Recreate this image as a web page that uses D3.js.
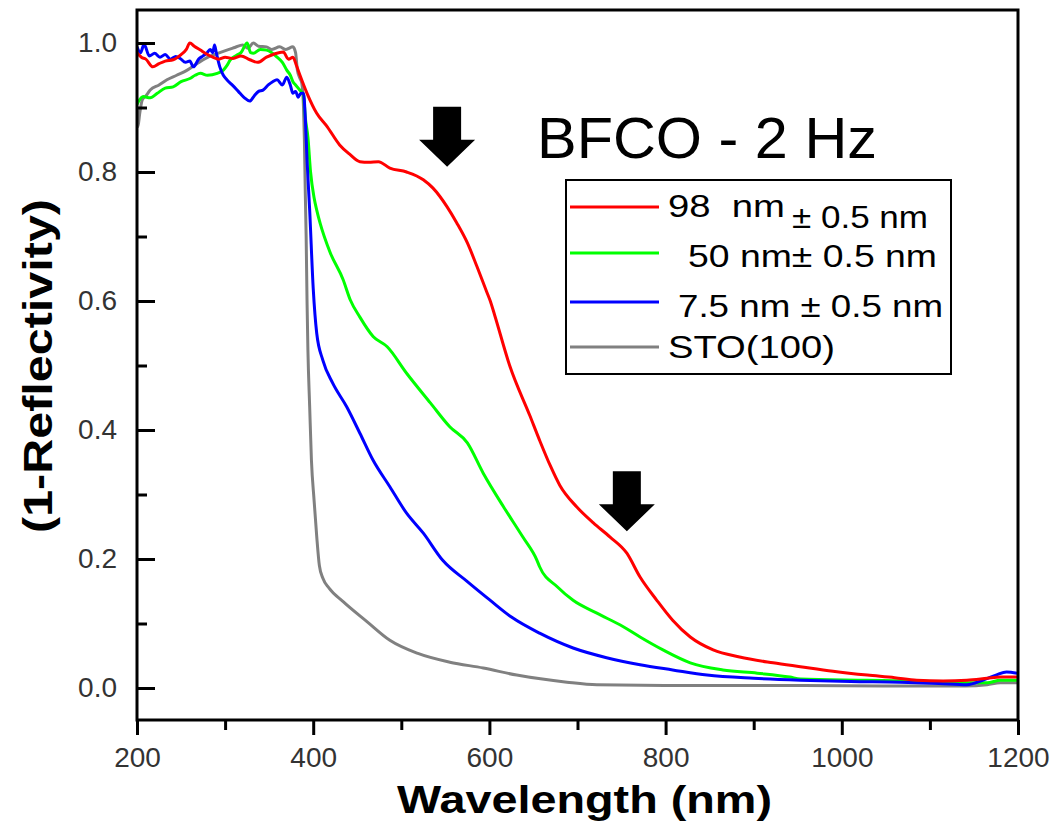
<!DOCTYPE html>
<html><head><meta charset="utf-8">
<script src="https://cdn.jsdelivr.net/npm/d3@7"></script>
<style>body{margin:0;background:#fff}svg{display:block}text{font-family:"Liberation Sans",Arial,sans-serif}</style>
</head><body>
<script>
// ---- data ----
const redWl = [200,205,210,218,225,232,241,250,256,260,265,272,279,286,293,300,309,318,328,337,347,356,366,372,377,381,385,393,404,416,430,441,453,463,474,487,506,525,536,552,563,575,586,597,601,606,623,646,657,669,680,699,718,737,756,771,790,808,828,854,884,922,953,990,1029,1060,1085,1115,1142,1165,1180,1199];
const redV  = [0.985,0.978,0.975,0.963,0.968,0.972,0.974,0.982,0.990,1.000,0.995,0.989,0.983,0.978,0.975,0.978,0.976,0.980,0.974,0.970,0.978,0.983,0.986,0.975,0.978,0.965,0.950,0.922,0.891,0.870,0.842,0.828,0.816,0.815,0.816,0.806,0.800,0.788,0.775,0.746,0.721,0.690,0.653,0.614,0.600,0.578,0.500,0.422,0.384,0.345,0.314,0.281,0.256,0.234,0.209,0.172,0.136,0.105,0.079,0.059,0.048,0.039,0.033,0.026,0.020,0.016,0.012,0.011,0.012,0.015,0.017,0.017];

const greenWl = [200,207,215,223,232,241,250,260,266,272,280,291,298,302,306,313,318,325,329,332,340,347,353,359,365,370,374,377,380,383,386,389,391,394,397,401,404,408,419,434,442,453,468,484,506,533,555,575,593,616,638,654,657,677,695,722,752,771,797,828,865,904,941,953,1029,1100,1142,1165,1180,1199];
const greenV  = [0.905,0.917,0.915,0.922,0.930,0.932,0.940,0.945,0.950,0.953,0.950,0.953,0.958,0.965,0.974,0.981,0.985,1.000,0.985,0.984,0.990,0.989,0.985,0.978,0.970,0.958,0.950,0.940,0.935,0.930,0.925,0.920,0.885,0.854,0.800,0.760,0.741,0.720,0.676,0.633,0.602,0.575,0.545,0.529,0.488,0.442,0.405,0.380,0.333,0.281,0.234,0.198,0.188,0.157,0.136,0.116,0.095,0.079,0.059,0.039,0.028,0.023,0.017,0.014,0.012,0.010,0.008,0.008,0.012,0.012];

const blueWl = [200,204,208,214,220,226,232,238,244,249,255,260,264,270,275,279,283,286,288,290,294,298,302,308,313,317,322,328,333,338,343,349,354,359,365,370,374,377,380,383,386,389,391,393,396,400,404,411,422,438,453,468,487,506,525,547,575,600,625,657,695,733,771,808,847,900,953,1010,1066,1110,1142,1160,1175,1187,1199];
const blueV  = [0.994,0.985,0.998,0.980,0.984,0.978,0.982,0.975,0.979,0.976,0.970,0.972,0.963,0.975,0.980,0.984,0.990,0.985,0.997,0.985,0.963,0.950,0.943,0.935,0.928,0.922,0.915,0.910,0.918,0.925,0.927,0.935,0.940,0.943,0.935,0.947,0.935,0.922,0.925,0.916,0.922,0.922,0.885,0.819,0.741,0.620,0.550,0.508,0.473,0.436,0.395,0.353,0.312,0.271,0.240,0.198,0.165,0.137,0.110,0.085,0.062,0.047,0.036,0.028,0.020,0.015,0.012,0.010,0.009,0.007,0.005,0.012,0.020,0.025,0.023];

const grayWl = [200,201,203,206,210,215,225,234,245,257,268,279,290,302,311,320,326,332,338,347,353,362,369,377,380,382,385,387,389,390,391,392,393,394,396,398,401,404,407,411,418,434,461,487,518,555,593,631,688,722,800,900,953,1050,1140,1165,1180,1199];
const grayV  = [0.900,0.870,0.890,0.912,0.918,0.927,0.935,0.943,0.950,0.958,0.968,0.977,0.983,0.989,0.993,0.997,0.992,1.000,0.995,0.994,0.990,0.994,0.990,0.994,0.985,0.958,0.945,0.938,0.900,0.850,0.769,0.700,0.600,0.524,0.436,0.353,0.291,0.235,0.190,0.170,0.155,0.134,0.103,0.074,0.054,0.040,0.031,0.020,0.009,0.005,0.004,0.004,0.004,0.003,0.003,0.005,0.008,0.008];

const seriesNames = ["98  nm", "50 nm", "7.5 nm", "STO(100)"];
const seriesColors = ["#ff0000", "#00ff00", "#0000ff", "#808080"];
const xMajor = [200,400,600,800,1000,1200];
const xMinor = [300,500,700,900,1100];
const yMajor = [0,0.2,0.4,0.6,0.8,1.0];
const yMinor = [0.1,0.3,0.5,0.7,0.9];
const arrowWl = [552, 756];
const arrowV = [0.808, 0.243];
const titleText = "BFCO - 2 Hz";

// ---- chart ----
const W = 1057, H = 828;
const L = 137, R = 1018, T = 10, B = 720;
const svg = d3.select("body").append("svg").attr("width", W).attr("height", H);
svg.append("rect").attr("width", W).attr("height", H).attr("fill", "#fff");

const x = d3.scaleLinear().domain([200, 1200]).range([L, R]);
const y = d3.scaleLinear().domain([0, 1]).range([688, 43]);

svg.append("clipPath").attr("id", "clip").append("rect")
  .attr("x", L).attr("y", T).attr("width", R - L).attr("height", B - T);

const series = [
  {wl: redWl, v: redV}, {wl: greenWl, v: greenV}, {wl: blueWl, v: blueV}, {wl: grayWl, v: grayV}
];
const line = d3.line().curve(d3.curveMonotoneX).x(d => x(d[0])).y(d => y(d[1]));
const g = svg.append("g").attr("clip-path", "url(#clip)");
[3, 1, 2, 0].forEach(i => {
  const s = series[i];
  g.append("path").datum(s.wl.map((w, k) => [w, s.v[k]]))
    .attr("d", line).attr("fill", "none")
    .attr("stroke", seriesColors[i]).attr("stroke-width", 3).attr("stroke-linejoin", "round");
});

// axes
const fontTick = 28;
const yAx = svg.append("g").attr("transform", `translate(${L},0)`)
  .call(d3.axisLeft(y).tickValues(yMajor).tickFormat(d3.format(".1f")).tickSize(-18).tickPadding(20));
yAx.select(".domain").remove();
yAx.selectAll("line").attr("stroke", "#000").attr("stroke-width", 3);
yAx.selectAll("text").attr("font-size", fontTick).attr("fill", "#333").attr("font-family", '"Liberation Sans",Arial,sans-serif');
const yAxm = svg.append("g").attr("transform", `translate(${L},0)`)
  .call(d3.axisLeft(y).tickValues(yMinor).tickFormat("").tickSize(-10));
yAxm.select(".domain").remove();
yAxm.selectAll("line").attr("stroke", "#000").attr("stroke-width", 3);

const xAx = svg.append("g").attr("transform", `translate(0,${B})`)
  .call(d3.axisBottom(x).tickValues(xMajor).tickFormat(d3.format("d")).tickSize(15).tickPadding(12));
xAx.select(".domain").remove();
xAx.selectAll("line").attr("stroke", "#000").attr("stroke-width", 3);
xAx.selectAll("text").attr("font-size", fontTick).attr("fill", "#333").attr("font-family", '"Liberation Sans",Arial,sans-serif');
const xAxm = svg.append("g").attr("transform", `translate(0,${B})`)
  .call(d3.axisBottom(x).tickValues(xMinor).tickFormat("").tickSize(10));
xAxm.select(".domain").remove();
xAxm.selectAll("line").attr("stroke", "#000").attr("stroke-width", 3);

// frame
svg.append("rect").attr("x", L).attr("y", T).attr("width", R - L).attr("height", B - T)
  .attr("fill", "none").attr("stroke", "#000").attr("stroke-width", 3);

// axis titles
svg.append("text").attr("x", 397).attr("y", 813).attr("font-size", 39).attr("font-weight", "bold")
  .attr("textLength", 375).attr("lengthAdjust", "spacingAndGlyphs").text("Wavelength (nm)");
svg.append("text").attr("transform", "translate(52,366) rotate(-90)").attr("text-anchor", "middle")
  .attr("font-size", 40).attr("font-weight", "bold")
  .attr("textLength", 334).attr("lengthAdjust", "spacingAndGlyphs").text("(1-Reflectivity)");

// title
svg.append("text").attr("x", 537).attr("y", 158).attr("font-size", 57)
  .attr("textLength", 340).attr("lengthAdjust", "spacingAndGlyphs").text(titleText);

// arrows
arrowWl.forEach((w, i) => {
  const px = x(w), py = y(arrowV[i]);
  const pts = [[0,0],[-28,-27],[-14,-27],[-14,-60],[14,-60],[14,-27],[28,-27]];
  svg.append("path").attr("d", "M" + pts.map(p => [px + p[0], py + p[1]].join(",")).join("L") + "Z")
    .attr("fill", "#000");
});

// legend
const lg = svg.append("g");
lg.append("rect").attr("x", 566).attr("y", 180).attr("width", 385).attr("height", 194)
  .attr("fill", "#fff").attr("stroke", "#000").attr("stroke-width", 2);
const rowY = [207, 253, 302, 347];
rowY.forEach((ry, i) => {
  lg.append("line").attr("x1", 570).attr("x2", 659).attr("y1", ry).attr("y2", ry)
    .attr("stroke", seriesColors[i]).attr("stroke-width", 3);
});
const legendPieces = [
  {t: seriesNames[0], x: 668, y: 217, w: 117},
  {t: "\u00b1 0.5 nm", x: 792, y: 228, w: 136},
  {t: seriesNames[1] + "\u00b1 0.5 nm", x: 688, y: 267, w: 249},
  {t: seriesNames[2] + " \u00b1 0.5 nm", x: 678, y: 317, w: 265},
  {t: seriesNames[3], x: 668, y: 358, w: 167}
];
legendPieces.forEach(p => {
  lg.append("text").attr("x", p.x).attr("y", p.y).attr("font-size", 32)
    .attr("textLength", p.w).attr("lengthAdjust", "spacingAndGlyphs")
    .attr("xml:space", "preserve").text(p.t);
});
</script>
</body></html>
